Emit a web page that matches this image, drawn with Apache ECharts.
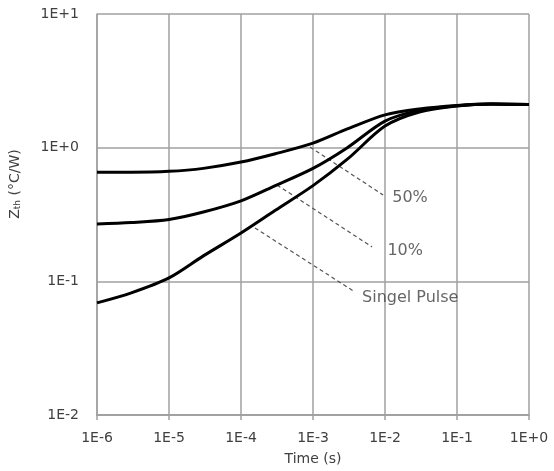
<!DOCTYPE html>
<html><head><meta charset="utf-8">
<script src="https://cdn.jsdelivr.net/npm/echarts@6/dist/echarts.min.js"></script>
<style>html,body{margin:0;padding:0;background:#fff}#c{width:554px;height:471px}</style>
</head><body><div id="c"></div>
<script>
const timeS = [1e-6, 3e-6, 1e-5, 3e-5, 1e-4, 3e-4, 1e-3, 3e-3, 1e-2, 3e-2, 1e-1, 3e-1, 1];
const z50 = [0.655, 0.655, 0.665, 0.70, 0.78, 0.90, 1.08, 1.38, 1.76, 1.95, 2.07, 2.12, 2.10];
const z10 = [0.268, 0.275, 0.29, 0.33, 0.40, 0.52, 0.70, 1.00, 1.58, 1.90, 2.06, 2.12, 2.10];
const zSingle = [0.069, 0.082, 0.106, 0.155, 0.23, 0.34, 0.52, 0.82, 1.45, 1.85, 2.05, 2.12, 2.10];
const xTickLabels = ['1E-6', '1E-5', '1E-4', '1E-3', '1E-2', '1E-1', '1E+0'];
const yTickLabels = ['1E-2', '1E-1', '1E+0', '1E+1'];
const annLabels = ['50%', '10%', 'Singel Pulse'];
const annStart = [[9.1e-4, 1.01], [3.16e-4, 0.526], [1.56e-4, 0.251]];
const annEnd = [[9.4e-3, 0.443], [6.6e-3, 0.181], [3.6e-3, 0.085]];
const annText = [[1.26e-2, 0.42], [1.08e-2, 0.169], [4.8e-3, 0.075]];

const font = '"DejaVu Sans", sans-serif';
const gridColor = '#a0a0a0';
const txt = '#404040';
function pair(xs, ys) { return xs.map((x, i) => [x, ys[i]]); }
const curveStyle = { color: '#000', width: 3 };
const series = [z50, z10, zSingle].map(arr => ({
  type: 'line', data: pair(timeS, arr), smooth: 0.3, showSymbol: false,
  lineStyle: curveStyle, silent: true, z: 3
}));
annLabels.forEach((name, i) => {
  series.push({
    type: 'line', data: [annStart[i], annEnd[i]], showSymbol: false, silent: true,
    lineStyle: { color: '#555', width: 1.2, type: [4, 3] }, z: 2
  });
  series.push({
    type: 'scatter', data: [annText[i]], symbolSize: 0, silent: true,
    label: { show: true, position: 'right', distance: 0, formatter: name,
      fontFamily: font, fontSize: 16, color: txt }
  });
});
const chart = echarts.init(document.getElementById('c'));
chart.setOption({
  animation: false,
  grid: { left: 97, top: 14, right: 25, bottom: 56 },
  graphic: [{
    type: 'text', x: 15, y: 184, rotation: Math.PI / 2,
    style: {
      text: '{m|Z}{s|th}{m| (°C/W)}', align: 'center', verticalAlign: 'middle',
      rich: {
        m: { fontFamily: font, fontSize: 14, fill: txt },
        s: { fontFamily: font, fontSize: 9, fill: txt, verticalAlign: 'bottom', padding: [4, 0, 0, 0] }
      }
    }
  }],
  xAxis: [{
    type: 'log', logBase: 10, min: 1e-6, max: 1,
    name: 'Time (s)', nameLocation: 'middle', nameGap: 37,
    nameTextStyle: { fontFamily: font, fontSize: 14, color: txt },
    axisLine: { lineStyle: { color: gridColor, width: 1.5 } },
    axisTick: { show: false },
    axisLabel: { interval: 0, fontFamily: font, fontSize: 14, color: txt, margin: 16,
      formatter: v => xTickLabels[Math.round(Math.log10(v)) + 6] },
    splitLine: { show: false }
  }, {
    type: 'log', logBase: 10, min: 1e-6, max: 1, position: 'bottom', offset: 0,
    axisLine: { show: true, lineStyle: { color: gridColor, width: 1.5 } },
    axisTick: { show: true, interval: 0, length: 5, lineStyle: { color: gridColor, width: 1.5 } },
    axisLabel: { show: false },
    splitLine: { show: true, interval: 0, lineStyle: { color: gridColor, width: 1.5 } }
  }],
  yAxis: {
    type: 'log', logBase: 10, min: 0.01, max: 10,
    axisLine: { show: true, lineStyle: { color: gridColor, width: 1.5 } },
    axisTick: { show: false },
    axisLabel: { interval: 0, fontFamily: font, fontSize: 14, color: txt, margin: 18,
      formatter: v => yTickLabels[Math.round(Math.log10(v)) + 2] },
    splitLine: { show: true, interval: 0, lineStyle: { color: gridColor, width: 1.5 } }
  },
  series: series
});
</script></body></html>
